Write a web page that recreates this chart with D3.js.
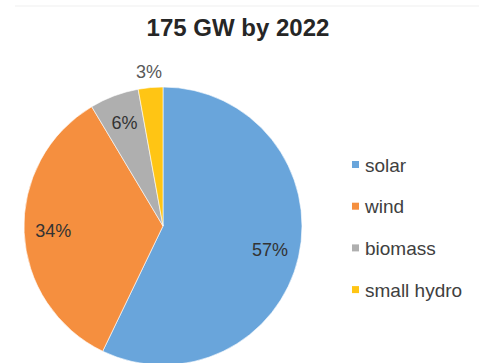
<!DOCTYPE html>
<html>
<head>
<meta charset="utf-8">
<script src="https://cdn.jsdelivr.net/npm/d3@7/dist/d3.min.js"></script>
<style>
  html, body { margin: 0; padding: 0; background: #fff; }
  svg { display: block; font-family: "Liberation Sans", Arial, sans-serif; }
</style>
</head>
<body>
<svg id="chart" width="479" height="363"></svg>
<script>
// Renewable energy target mix (GW)
const categories = ["solar", "wind", "biomass", "small hydro"];
const capacityGW = [100, 60, 10, 5];
const sliceColors = ["#69a5db", "#f58f3f", "#afafaf", "#ffc514"];
const titleText = "175 GW by 2022";

const width = 479, height = 363;
const svg = d3.select("#chart");

// faint frame line along the top
svg.append("line")
  .attr("x1", 15).attr("x2", width).attr("y1", 6).attr("y2", 6)
  .attr("stroke", "#efefef").attr("stroke-width", 1);

svg.append("text")
  .attr("x", 238).attr("y", 36)
  .attr("text-anchor", "middle")
  .attr("font-size", 24).attr("font-weight", "bold")
  .attr("fill", "#262626")
  .text(titleText);

const cx = 163, cy = 226, radius = 139;
const total = d3.sum(capacityGW);
const data = categories.map((c, i) => ({ name: c, value: capacityGW[i], color: sliceColors[i] }));

const pie = d3.pie().sort(null).value(d => d.value);
const arcs = pie(data);
const arc = d3.arc().innerRadius(0).outerRadius(radius);

const g = svg.append("g").attr("transform", `translate(${cx},${cy})`);

g.selectAll("path.slice")
  .data(arcs)
  .join("path")
  .attr("class", "slice")
  .attr("d", arc)
  .attr("fill", d => d.data.color)
  .attr("stroke", "#ffffff")
  .attr("stroke-width", 0.6);

// percentage labels: inside for large slices, just outside for tiny ones
g.selectAll("text.pct")
  .data(arcs)
  .join("text")
  .attr("class", "pct")
  .attr("text-anchor", "middle")
  .attr("dominant-baseline", "central")
  .attr("font-size", 18)
  .attr("fill", d => (d.data.value / total < 0.05 ? "#595959" : "#333333"))
  .attr("transform", d => {
    const share = d.data.value / total;
    const r = share < 0.05 ? radius + 16 : radius * 0.79;
    const a = (d.startAngle + d.endAngle) / 2;
    return `translate(${Math.sin(a) * r},${-Math.cos(a) * r})`;
  })
  .text(d => Math.round(d.data.value / total * 100) + "%");

// legend
const legend = svg.append("g").attr("transform", "translate(352,165)");
const rowGap = 41.7;
const rows = legend.selectAll("g.row")
  .data(data)
  .join("g")
  .attr("class", "row")
  .attr("transform", (d, i) => `translate(0,${i * rowGap})`);

rows.append("rect")
  .attr("x", 0).attr("y", -4)
  .attr("width", 7).attr("height", 7)
  .attr("fill", d => d.color);

rows.append("text")
  .attr("x", 13).attr("y", 0)
  .attr("dominant-baseline", "central")
  .attr("font-size", 19)
  .attr("fill", "#404040")
  .text(d => d.name);
</script>
</body>
</html>
